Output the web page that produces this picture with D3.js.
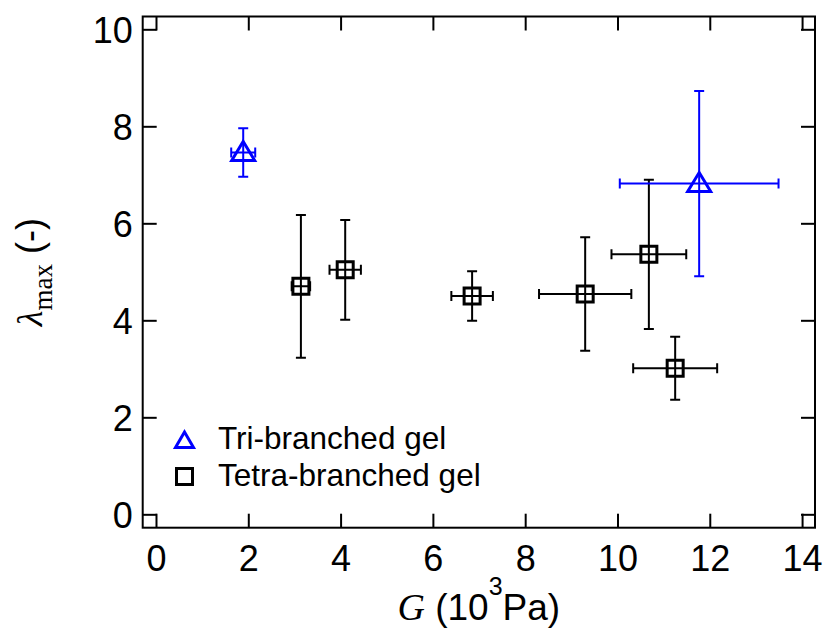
<!DOCTYPE html>
<html>
<head>
<meta charset="utf-8">
<script src="https://cdn.jsdelivr.net/npm/d3@7/dist/d3.min.js"></script>
<style>
  html, body { margin: 0; padding: 0; background: #fff; }
  svg { display: block; }
</style>
</head>
<body>
<div id="chart"></div>
<script>
// Tri-branched gel: G (10^3 Pa), lambda_max, errors
const triG = [1.89, 11.77];
const triLam = [7.46, 6.82];
const triGErr = [0.26, 1.72];
const triLamErr = [0.5, 1.91];

// Tetra-branched gel
const tetraG = [3.14, 4.10, 6.85, 9.30, 10.68, 11.25];
const tetraLam = [4.70, 5.04, 4.50, 4.54, 5.36, 3.01];
const tetraGErr = [0.2, 0.34, 0.45, 1.0, 0.81, 0.91];
const tetraLamErr = [1.47, 1.03, 0.51, 1.17, 1.54, 0.65];

const xTicks = [0, 2, 4, 6, 8, 10, 12, 14];
const yTicks = [0, 2, 4, 6, 8, 10];
const legendLabels = ['Tri-branched gel', 'Tetra-branched gel'];

const width = 825, height = 629;
const margin = { top: 16.5, right: 10, bottom: 101.3, left: 142.7 };
const innerW = width - margin.left - margin.right;
const innerH = height - margin.top - margin.bottom;
const sansFont = '"Liberation Sans", Arial, sans-serif';
const serifFont = '"Liberation Serif", "Times New Roman", serif';
const blue = '#0000ff';

const svg = d3.select('#chart').append('svg')
  .attr('width', width)
  .attr('height', height);

const g = svg.append('g')
  .attr('transform', `translate(${margin.left},${margin.top})`);

const x = d3.scaleLinear().domain([-0.288, 14.28]).range([0, innerW]);
const y = d3.scaleLinear().domain([-0.276, 10.264]).range([innerH, 0]);

// 坐标轴（刻度朝内）
const tickLen = 14;
function styleAxis(sel) {
  sel.select('.domain').remove();
  sel.selectAll('line').attr('stroke', '#000').attr('stroke-width', 2);
  sel.selectAll('text').attr('fill', '#000').attr('font-family', sansFont).attr('font-size', 36);
}

g.append('g')
  .attr('transform', `translate(0,${innerH})`)
  .call(d3.axisBottom(x).tickValues(xTicks).tickSize(-tickLen).tickPadding(0).tickFormat(d3.format('d')))
  .call(styleAxis)
  .call(s => s.selectAll('text').attr('y', 43).attr('dy', 0));

g.append('g')
  .call(d3.axisTop(x).tickValues(xTicks).tickSize(-tickLen).tickFormat(''))
  .call(styleAxis);

g.append('g')
  .call(d3.axisLeft(y).tickValues(yTicks).tickSize(-tickLen).tickFormat(d3.format('d')))
  .call(styleAxis)
  .call(s => s.selectAll('text').attr('x', -10).attr('dy', '0.36em'));

g.append('g')
  .attr('transform', `translate(${innerW},0)`)
  .call(d3.axisRight(y).tickValues(yTicks).tickSize(-tickLen).tickFormat(''))
  .call(styleAxis);

// 边框
g.append('rect')
  .attr('width', innerW)
  .attr('height', innerH)
  .attr('fill', 'none')
  .attr('stroke', '#000')
  .attr('stroke-width', 2);

// 误差棒 + 标记
const capHalf = 5;
function drawSeries(gx, gy, ex, ey, color, shape) {
  const data = gx.map((v, i) => ({ g: v, l: gy[i], ex: ex[i], ey: ey[i] }));
  const grp = g.append('g').attr('stroke', color).attr('fill', 'none');
  const bars = grp.selectAll('g.pt').data(data).join('g').attr('class', 'pt');
  bars.append('path')
    .attr('stroke-width', 2)
    .attr('d', d => {
      const cx = x(d.g), cy = y(d.l);
      const y0 = y(d.l - d.ey), y1 = y(d.l + d.ey);
      const x0 = x(d.g - d.ex), x1 = x(d.g + d.ex);
      return `M${cx},${y0}V${y1}` +
        `M${cx - capHalf},${y0}H${cx + capHalf}M${cx - capHalf},${y1}H${cx + capHalf}` +
        `M${x0},${cy}H${x1}` +
        `M${x0},${cy - capHalf}V${cy + capHalf}M${x1},${cy - capHalf}V${cy + capHalf}`;
    });
  bars.append('path')
    .attr('stroke-width', 3)
    .attr('transform', d => `translate(${x(d.g)},${y(d.l)})`)
    .attr('d', shape);
}

const squarePath = 'M-8,-8H8V8H-8Z';
const trianglePath = 'M0,-11L11.5,8H-11.5Z';

drawSeries(tetraG, tetraLam, tetraGErr, tetraLamErr, '#000', squarePath);
drawSeries(triG, triLam, triGErr, triLamErr, blue, trianglePath);

// 图例
const legend = svg.append('g').attr('transform', 'translate(184.5,0)');
const legendRows = [
  { label: legendLabels[0], color: blue, shape: 'M0,-8L9,7.5H-9Z', cy: 440, base: 449 },
  { label: legendLabels[1], color: '#000', shape: 'M-8,-8H8V8H-8Z', cy: 476.5, base: 486 }
];
legend.selectAll('path')
  .data(legendRows)
  .join('path')
  .attr('transform', d => `translate(0,${d.cy})`)
  .attr('d', d => d.shape)
  .attr('fill', 'none')
  .attr('stroke', d => d.color)
  .attr('stroke-width', 3);
legend.selectAll('text')
  .data(legendRows)
  .join('text')
  .attr('x', 33.5)
  .attr('y', d => d.base)
  .attr('font-family', sansFont)
  .attr('font-size', 31.5)
  .attr('fill', '#000')
  .text(d => d.label);

// X 轴标题
const xTitle = svg.append('text')
  .attr('x', margin.left + innerW / 2)
  .attr('y', 620)
  .attr('text-anchor', 'middle')
  .attr('font-family', sansFont)
  .attr('font-size', 37)
  .attr('fill', '#000');
xTitle.append('tspan').attr('font-family', serifFont).attr('font-style', 'italic').attr('font-size', 38).text('G');
xTitle.append('tspan').text('\u00a0(10');
xTitle.append('tspan').attr('font-size', 25).attr('dy', -25).text('3');
xTitle.append('tspan').attr('dy', 25).text('Pa)');

// Y 轴标题
const yTitle = svg.append('text')
  .attr('transform', `translate(42,${margin.top + innerH / 2}) rotate(-90)`)
  .attr('text-anchor', 'middle')
  .attr('font-family', sansFont)
  .attr('font-size', 36)
  .attr('fill', '#000');
yTitle.append('tspan').attr('font-family', serifFont).attr('font-style', 'italic').text('λ');
yTitle.append('tspan').attr('font-family', serifFont).attr('font-size', 27).attr('dy', 10).text('max');
yTitle.append('tspan').attr('dy', -10).text(' (-)');
</script>
</body>
</html>
